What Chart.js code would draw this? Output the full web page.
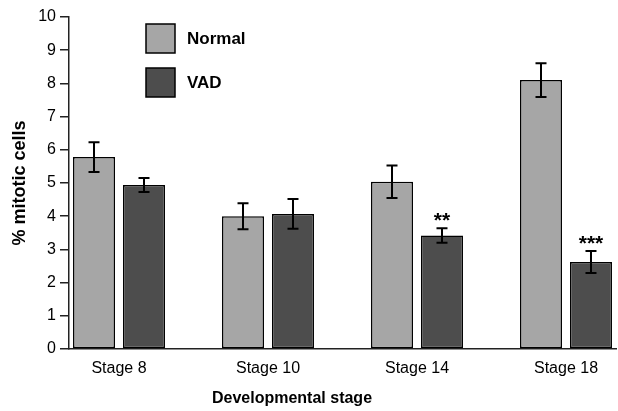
<!DOCTYPE html>
<html>
<head>
<meta charset="utf-8">
<script src="https://cdn.jsdelivr.net/npm/chart.js@4/dist/chart.umd.min.js"></script>
<style>
  html, body { margin: 0; padding: 0; background: #fff; }
</style>
</head>
<body>
<canvas id="mitoticChart" width="618" height="411"></canvas>
<script>
// values
var stages = ['Stage 8', 'Stage 10', 'Stage 14', 'Stage 18'];
var normalValues = [5.78, 4.0, 5.04, 8.1];
var normalErrors = [0.45, 0.39, 0.49, 0.51];
var vadValues = [4.94, 4.07, 3.42, 2.62];
var vadErrors = [0.21, 0.45, 0.22, 0.33];
var vadSignificance = ['', '', '**', '***'];
var yTicks = [0, 1, 2, 3, 4, 5, 6, 7, 8, 9, 10];
var xTitle = 'Developmental stage';
var yTitle = '% mitotic cells';

Chart.defaults.font.family = '"Liberation Sans", Arial, sans-serif';
Chart.defaults.color = '#000';

function toPoints(values) {
  var pts = [];
  for (var i in values) {
    pts.push({ x: Number(i), y: values[i] });
  }
  return pts;
}

var errorBars = {
  id: 'errorBars',
  afterDatasetsDraw: function(chart) {
    var ctx = chart.ctx;
    var yScale = chart.scales.y;
    ctx.save();
    ctx.strokeStyle = '#000';
    ctx.lineWidth = 2;
    chart.data.datasets.forEach(function(ds, di) {
      var meta = chart.getDatasetMeta(di);
      meta.data.forEach(function(bar, i) {
        var v = ds.data[i].y;
        var e = ds.errors[i];
        var top = yScale.getPixelForValue(v + e);
        var bot = yScale.getPixelForValue(v - e);
        ctx.beginPath();
        ctx.moveTo(bar.x, top); ctx.lineTo(bar.x, bot);
        ctx.moveTo(bar.x - 5.5, top); ctx.lineTo(bar.x + 5.5, top);
        ctx.moveTo(bar.x - 5.5, bot); ctx.lineTo(bar.x + 5.5, bot);
        ctx.stroke();
        if (ds.marks && ds.marks[i]) {
          ctx.fillStyle = '#000';
          ctx.font = 'bold 21px "Liberation Sans", Arial, sans-serif';
          ctx.textAlign = 'center';
          ctx.textBaseline = 'alphabetic';
          ctx.fillText(ds.marks[i], bar.x, top - 1);
        }
      });
    });
    ctx.restore();
  }
};

var insideLegend = {
  id: 'insideLegend',
  afterDraw: function(chart) {
    var ctx = chart.ctx;
    var area = chart.chartArea;
    ctx.save();
    chart.data.datasets.forEach(function(ds, di) {
      var bx = area.left + 77;
      var by = area.top + 7 + di * 44;
      ctx.fillStyle = ds.backgroundColor;
      ctx.fillRect(bx, by, 29, 29);
      ctx.strokeStyle = '#000';
      ctx.lineWidth = 1.5;
      ctx.strokeRect(bx, by, 29, 29);
      ctx.fillStyle = '#000';
      ctx.font = 'bold 17px "Liberation Sans", Arial, sans-serif';
      ctx.textAlign = 'left';
      ctx.textBaseline = 'middle';
      ctx.fillText(ds.label, bx + 41, by + 15);
    });
    // x axis title, sits left of the plot centre in the original
    ctx.font = 'bold 16px "Liberation Sans", Arial, sans-serif';
    ctx.textAlign = 'center';
    ctx.textBaseline = 'middle';
    ctx.fillText(xTitle, 292, 399);
    ctx.restore();
  }
};

var ctx = document.getElementById('mitoticChart');

var chart = new Chart(ctx, {
  type: 'bar',
  data: {
    datasets: [
      {
        label: 'Normal',
        data: toPoints(normalValues),
        errors: normalErrors,
        backgroundColor: '#a6a6a6',
        borderColor: '#000',
        borderWidth: 1.5,
        borderSkipped: false
      },
      {
        label: 'VAD',
        data: toPoints(vadValues),
        errors: vadErrors,
        marks: vadSignificance,
        backgroundColor: '#4d4d4d',
        borderColor: '#000',
        borderWidth: 1.5,
        borderSkipped: false
      }
    ]
  },
  options: {
    responsive: false,
    animation: false,
    categoryPercentage: 0.671,
    barPercentage: 0.84,
    layout: { padding: { left: 0, right: 2, top: 17, bottom: 0 } },
    plugins: {
      legend: { display: false },
      tooltip: { enabled: false }
    },
    scales: {
      x: {
        type: 'linear',
        offset: false,
        min: -0.3356,
        max: 3.3356,
        afterBuildTicks: function(scale) {
          scale.ticks = stages.map(function(s, i) { return { value: i }; });
        },
        afterFit: function(scale) { scale.height = 62; },
        ticks: {
          callback: function(v) { return stages[v]; },
          font: { size: 16 },
          padding: 10,
          maxRotation: 0,
          autoSkip: false
        },
        grid: { display: false, drawTicks: false },
        border: { display: true, color: '#222', width: 1.5 }
      },
      y: {
        min: 0,
        max: 10,
        afterBuildTicks: function(scale) {
          scale.ticks = yTicks.map(function(t) { return { value: t }; });
        },
        afterFit: function(scale) { scale.width = 69; },
        ticks: { font: { size: 16 }, padding: 4 },
        grid: {
          display: true,
          drawOnChartArea: false,
          drawTicks: true,
          tickLength: 9,
          color: '#222',
          lineWidth: 1.5
        },
        border: { display: true, color: '#222', width: 1.5 },
        title: {
          display: true,
          text: yTitle,
          font: { size: 18, weight: 'bold' },
          padding: { top: 9, bottom: 0 }
        }
      }
    }
  },
  plugins: [errorBars, insideLegend]
});
</script>
</body>
</html>
